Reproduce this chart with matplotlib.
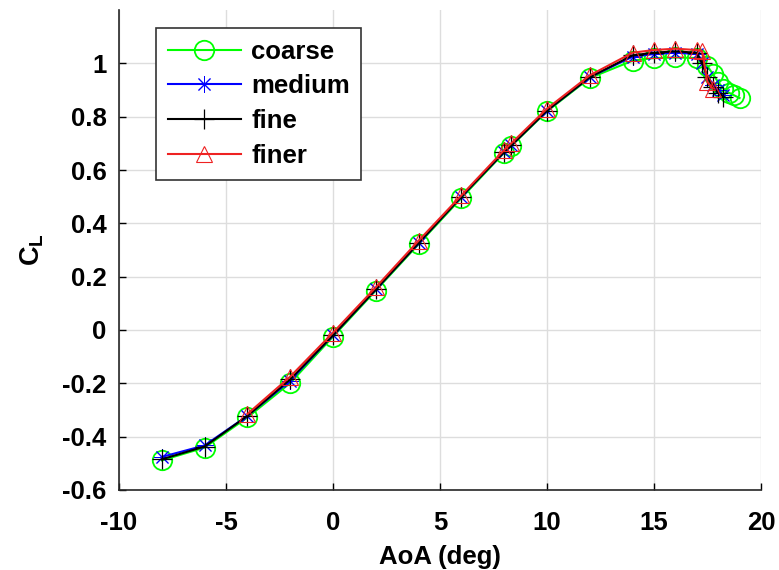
import matplotlib.pyplot as plt
import numpy as np

plt.rcParams['font.family'] = ['Liberation Sans', 'DejaVu Sans']
plt.rcParams['font.weight'] = 'bold'
plt.rcParams['axes.unicode_minus'] = False
plt.rcParams['mathtext.fontset'] = 'custom'
plt.rcParams['mathtext.bf'] = 'Liberation Sans:bold'
plt.rcParams['mathtext.rm'] = 'Liberation Sans:bold'

# lift coefficient vs angle of attack for four grid resolutions
aoa_coarse = [-8, -6, -4, -2, 0, 2, 4, 6, 8, 8.33, 10, 12, 14, 15, 16, 17,
              17.5, 17.75, 18, 18.25, 18.5, 18.75, 19]
cl_coarse = [-0.489, -0.441, -0.328, -0.199, -0.025, 0.148, 0.322, 0.495, 0.665, 0.69,
             0.82, 0.945, 1.01, 1.02, 1.022, 1.02, 0.99, 0.96, 0.93, 0.905, 0.89, 0.88, 0.87]

aoa_medium = [-8, -6, -4, -2, 0, 2, 4, 6, 8, 8.33, 10, 12, 14, 15, 16, 17,
              17.25, 17.5, 17.75, 18, 18.25]
cl_medium = [-0.476, -0.433, -0.322, -0.19, -0.02, 0.152, 0.326, 0.5, 0.668, 0.692,
             0.823, 0.948, 1.025, 1.035, 1.04, 1.035, 1.0, 0.95, 0.92, 0.9, 0.88]

aoa_fine = [-8, -6, -4, -2, 0, 2, 4, 6, 8, 8.33, 10, 12, 14, 15, 16, 17,
            17.25, 17.5, 17.75, 18, 18.25]
cl_fine = [-0.485, -0.437, -0.322, -0.185, -0.02, 0.152, 0.326, 0.5, 0.668, 0.692,
           0.823, 0.948, 1.03, 1.04, 1.045, 1.04, 1.0, 0.95, 0.91, 0.89, 0.875]

aoa_finer = [-4, -2, 0, 2, 4, 6, 8, 8.33, 10, 12, 14, 15, 16, 17, 17.25, 17.5, 17.75]
cl_finer = [-0.315, -0.175, -0.01, 0.16, 0.335, 0.505, 0.675, 0.7, 0.83, 0.955,
            1.04, 1.05, 1.055, 1.05, 1.045, 0.93, 0.905]

fs = 18.5

fig = plt.figure(figsize=(7.79, 5.70), dpi=100)
ax = fig.add_axes([0.1528, 0.1404, 0.824, 0.842])

# asterisk marker: plus and cross combined
aster = (8, 2, 0)

ax.plot(aoa_coarse, cl_coarse, color='#00ff00', lw=1.5, marker='o', ms=14,
        mfc='none', mew=1.3, label='coarse')
ax.plot(aoa_medium, cl_medium, color='#0000ff', lw=1.5, marker=aster, ms=12,
        mfc='none', mew=0.7, label='medium')
ax.plot(aoa_fine, cl_fine, color='black', lw=1.5, marker='+', ms=14,
        mew=0.9, label='fine')
ax.plot(aoa_finer, cl_finer, color='#ee2222', lw=1.5, marker='^', ms=11,
        mfc='none', mew=0.8, label='finer')

ax.set_xlim(-10, 20)
ax.set_ylim(-0.6, 1.2)
ax.set_xticks(np.arange(-10, 21, 5))
ax.set_yticks(np.arange(-0.6, 1.01, 0.2))
ax.set_yticklabels(['-0.6', '-0.4', '-0.2', '0', '0.2', '0.4', '0.6', '0.8', '1'])
ax.tick_params(direction='in', labelsize=fs, length=5, width=1)
ax.tick_params(axis='x', pad=15)
ax.tick_params(axis='y', pad=9)
ax.grid(True, color='#dddddd', lw=1)
ax.set_axisbelow(True)
for s in ['top', 'right']:
    ax.spines[s].set_visible(False)
for s in ['left', 'bottom']:
    ax.spines[s].set_linewidth(1.2)
    ax.spines[s].set_color('#262626')

ax.set_xlabel('AoA (deg)', fontsize=fs, fontweight='bold', labelpad=7)
ax.set_ylabel(r'$\mathbf{C_L}$', fontsize=fs + 1, labelpad=12)

leg = ax.legend(loc='upper left', bbox_to_anchor=(0.0576, 0.9625), borderaxespad=0,
                fontsize=fs, handlelength=2.85, labelspacing=0.42,
                fancybox=False, framealpha=1, borderpad=0.45, handletextpad=0.4)
leg.get_frame().set_edgecolor('#333333')
leg.get_frame().set_linewidth(1.2)

fig.savefig('out.png', dpi=100)
